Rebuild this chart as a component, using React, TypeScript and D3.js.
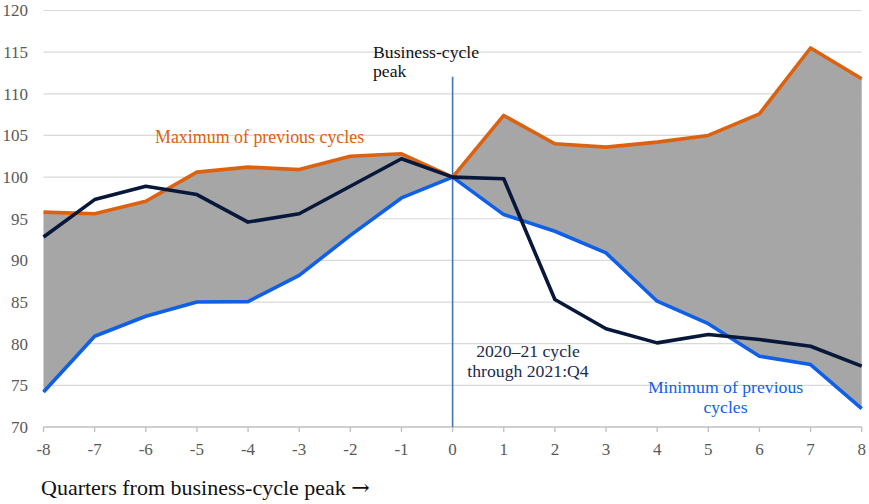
import React from "react";
import * as d3 from "d3";

const quarters = [-8, -7, -6, -5, -4, -3, -2, -1, 0, 1, 2, 3, 4, 5, 6, 7, 8];
const maxPrev = [95.8, 95.6, 97.1, 100.6, 101.2, 100.9, 102.5, 102.8, 100, 107.4, 104.0, 103.6, 104.2, 105.0, 107.6, 115.5, 111.8];
const minPrev = [74.2, 80.9, 83.3, 85.0, 85.05, 88.2, 93.0, 97.5, 100, 95.5, 93.5, 90.9, 85.1, 82.4, 78.5, 77.5, 72.2];
const current = [92.8, 97.3, 98.9, 97.9, 94.6, 95.6, 98.9, 102.2, 100, 99.8, 85.3, 81.8, 80.1, 81.1, 80.5, 79.7, 77.3];
const yTicks = [70, 75, 80, 85, 90, 95, 100, 105, 110, 115, 120];

const W = 869;
const H = 504;
const FONT = "Liberation Serif, Tinos, Times New Roman, Times, serif";

export default function App() {
  const x = d3.scaleLinear().domain([-8, 8]).range([43.5, 861.7]);
  const y = d3.scaleLinear().domain([70, 120]).range([427, 10.5]);

  const idx = quarters.map((_, i) => i);
  const area = d3
    .area<number>()
    .x((i) => x(quarters[i]))
    .y0((i) => y(minPrev[i]))
    .y1((i) => y(maxPrev[i]));
  const line = (vals: number[]) =>
    d3
      .line<number>()
      .x((i) => x(quarters[i]))
      .y((i) => y(vals[i]))(idx) as string;

  return (
    <div style={{ position: "absolute", left: 0, top: 0 }}>
      <svg width={W} height={H} style={{ display: "block", background: "#fff", fontFamily: FONT }}>
        {yTicks.map((t) => (
          <g key={t}>
            {t !== 70 && (
              <line x1={x(-8)} x2={x(8)} y1={y(t)} y2={y(t)} stroke="#d9d9d9" strokeWidth={1.2} />
            )}
            <text x={28} y={y(t)} dy="0.35em" textAnchor="end" fontSize={17} fill="#595959">
              {t}
            </text>
          </g>
        ))}
        <path d={area(idx) as string} fill="#a6a6a6" />
        <line x1={x(-8)} x2={x(8)} y1={y(70)} y2={y(70)} stroke="#bfbfbf" strokeWidth={1.3} />
        {quarters.map((q) => (
          <g key={q}>
            <line x1={x(q)} x2={x(q)} y1={y(70)} y2={y(70) + 5} stroke="#bfbfbf" strokeWidth={1.3} />
            <text x={x(q)} y={455} textAnchor="middle" fontSize={17} fill="#595959">
              {q}
            </text>
          </g>
        ))}
        <line x1={x(0)} x2={x(0)} y1={76.7} y2={y(70)} stroke="#4472c4" strokeWidth={1.6} />
        <path d={line(maxPrev)} fill="none" stroke="#dd620f" strokeWidth={3.6} strokeLinejoin="round" />
        <path d={line(minPrev)} fill="none" stroke="#1060e6" strokeWidth={3.6} strokeLinejoin="round" />
        <path d={line(current)} fill="none" stroke="#07183a" strokeWidth={3.6} strokeLinejoin="round" />

        <text x={373} y={58} fontSize={17.7} fill="#111">
          <tspan x={373}>Business-cycle</tspan>
          <tspan x={373} dy={19}>peak</tspan>
        </text>
        <text x={155} y={143} fontSize={17.9} fill="#dd620f">
          Maximum of previous cycles
        </text>
        <text x={528} y={357} fontSize={17.7} fill="#1c2c4e" textAnchor="middle">
          <tspan x={528}>2020–21 cycle</tspan>
          <tspan x={528} dy={20}>through 2021:Q4</tspan>
        </text>
        <text x={725.5} y={393} fontSize={17.7} fill="#1060e6" textAnchor="middle">
          <tspan x={725.5}>Minimum of previous</tspan>
          <tspan x={725.5} dy={20}>cycles</tspan>
        </text>
        <text x={41} y={495} fontSize={22} fill="#111">
          Quarters from business-cycle peak <tspan fontFamily="DejaVu Serif, serif">→</tspan>
        </text>
      </svg>
    </div>
  );
}
